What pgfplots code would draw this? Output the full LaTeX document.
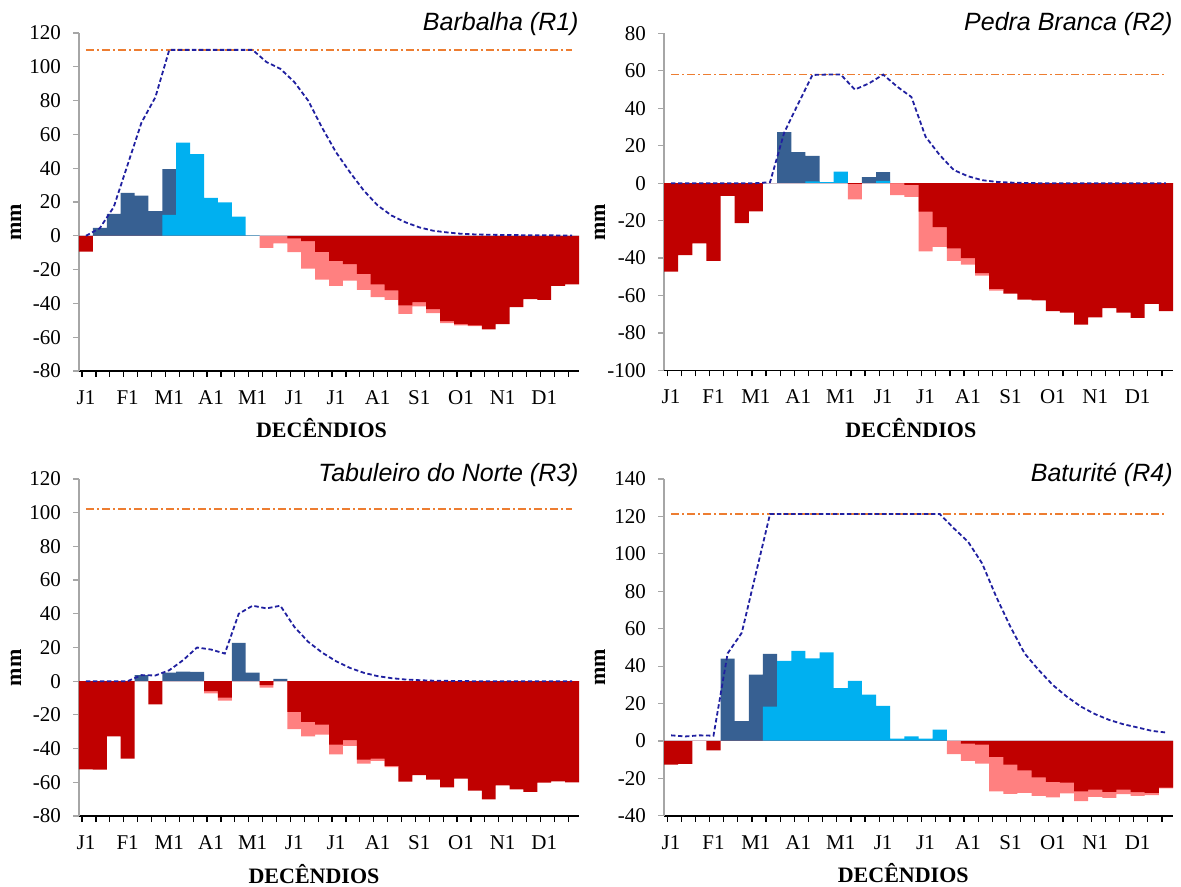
\documentclass[border=0pt]{standalone}
\usepackage{fontspec}
\setmainfont{Liberation Serif}
\newfontfamily\arialfont{Liberation Sans}
\usepackage{pgfplots}
\usepackage{pgfplotstable}
\pgfplotsset{compat=1.18}

\definecolor{dblue}{HTML}{376092}
\definecolor{lblue}{HTML}{00B0F0}
\definecolor{dred}{HTML}{C00000}
\definecolor{lpink}{HTML}{FF8080}
\definecolor{navyl}{RGB}{32,32,160}
\definecolor{orng}{HTML}{ED7D31}
\definecolor{axgray}{HTML}{A6A6A6}

% x: decendio index, db: dark blue, lb: light blue, pk: pink, dr: dark red, sto: storage line
\pgfplotstableread{
x db lb pk dr sto
0 0 0 0 -9.3 0
1 4.7 0 0 0 4.5
2 13 0 0 0 17
3 25.4 0 0 0 42
4 23.7 0 0 0 67
5 14.6 0 0 0 82
6 39.4 12.4 0 0 110
7 0 55.2 0 0 110
8 0 48.3 0 0 110
9 0 22.5 0 0 110
10 0 19.7 0 0 110
11 0 11.4 0 0 110
12 0 0.3 0 0 110
13 0 0 -7.1 0 102.8
14 0 0 -4.5 0 98.8
15 0 0 -9.7 -1.6 91
16 0 0 -19.5 -3.2 80
17 0 0 -26 -9.5 64
18 0 0 -29.6 -14.8 49.5
19 0 0 -26.6 -16.8 37.7
20 0 0 -32 -22.5 26.8
21 0 0 -36.3 -28.8 18
22 0 0 -37.9 -32.3 12
23 0 0 -46.2 -41.2 8
24 0 0 -41.8 -39.3 5
25 0 0 -45.8 -43.4 3
26 0 0 -51.7 -50.5 2
27 0 0 -53 -52.3 1.2
28 0 0 -53.4 -53 0.8
29 0 0 0 -55.4 0.6
30 0 0 0 -52.3 0.5
31 0 0 0 -42.2 0.4
32 0 0 0 -37.5 0.3
33 0 0 0 -37.9 0.3
34 0 0 0 -29.6 0.2
35 0 0 0 -28.8 0.2
}\Ra

\pgfplotstableread{
x db lb pk dr sto
0 0 0 0 -47.2 0
1 0 0 0 -38.5 0
2 0 0 0 -32.1 0
3 0 0 0 -41.5 0
4 0 0 0 -6.8 0
5 0 0 0 -21.4 0
6 0 0 0 -15 0
7 0 0 0 0 0.5
8 27.3 0 0 0 27
9 16.6 0 0 0 42.6
10 14.6 1 0 0 57.8
11 0 0.5 0 0 58
12 0 6.2 0 0 58
13 0 0 -8.6 -0.4 50
14 3.2 0 0 0 53.3
15 5.9 1.2 0 0 58
16 0 0 -6.4 0 51.5
17 0 0 -7.3 -0.9 46
18 0 0 -36.4 -15.2 24.8
19 0 0 -34 -23.5 15
20 0 0 -41.5 -34.8 7
21 0 0 -43.5 -40 3.7
22 0 0 -49.4 -48 1.6
23 0 0 -57.4 -56.5 0.7
24 0 0 0 -59 0.3
25 0 0 0 -62.2 0.1
26 0 0 0 -62.6 0
27 0 0 0 -68.4 0
28 0 0 0 -69.2 0
29 0 0 0 -75.6 0
30 0 0 0 -71.7 0
31 0 0 0 -66.7 0
32 0 0 0 -69.2 0
33 0 0 0 -72 0
34 0 0 0 -64.5 0
35 0 0 0 -68.3 0
}\Rb

\pgfplotstableread{
x db lb pk dr sto
0 0 0 0 -52.3 0
1 0 0 0 -52.5 0
2 0 0 0 -32.7 0
3 0 0 0 -46 0
4 3.6 0 0 0 3.6
5 0 0 0 -13.7 3.4
6 5.1 0 0 0 6.5
7 5.7 0 0 0 12.5
8 5.5 0 0 0 20
9 0 0 -7.3 -5.9 18.8
10 0 0 -11.5 -9.7 16.4
11 22.8 0 0 0 40
12 5.1 0 0 0 44.8
13 0 0 -3.8 -2.4 43.2
14 1.4 0 0 0 44.8
15 0 0 -28.5 -18.2 32.3
16 0 0 -32.7 -24.2 23.4
17 0 0 -31.7 -25.7 17
18 0 0 -43.4 -37.6 11.9
19 0 0 -38.4 -35 7.9
20 0 0 -48.9 -46.5 5
21 0 0 -47.3 -46 3
22 0 0 -51 -50.3 1.8
23 0 0 0 -59.6 1
24 0 0 0 -55.8 0.6
25 0 0 0 -58.4 0.3
26 0 0 0 -63 0.2
27 0 0 0 -57.8 0.1
28 0 0 0 -65 0
29 0 0 0 -70.1 0
30 0 0 0 -61.8 0
31 0 0 0 -64.2 0
32 0 0 0 -65.7 0
33 0 0 0 -60.2 0
34 0 0 0 -59.4 0
35 0 0 0 -60 0
}\Rc

\pgfplotstableread{
x db lb pk dr sto
0 0 0 0 -12.6 3
1 0 0 0 -12.3 2.4
2 0 0 0 0 3
3 0 0 0 -5.1 2.8
4 44 0 0 0 46.8
5 10.6 0 0 0 57.8
6 35.5 0 0 0 89.6
7 46.6 18.4 0 0 121.3
8 0 42.8 0 0 121.3
9 0 48.1 0 0 121.3
10 0 44.2 0 0 121.3
11 0 47.4 0 0 121.3
12 0 28.3 0 0 121.3
13 0 32.1 0 0 121.3
14 0 24.8 0 0 121.3
15 0 18.8 0 0 121.3
16 0 1.3 0 0 121.3
17 0 2.4 0 0 121.3
18 0 1.3 0 0 121.3
19 0 6.1 0 0 121.3
20 0 0 -7.1 0 113.6
21 0 0 -10.6 -1.4 106.5
22 0 0 -12.1 -2 94.9
23 0 0 -26.9 -8.5 77
24 0 0 -28.3 -12.6 61
25 0 0 -27.8 -15.7 46.8
26 0 0 -29.4 -19.4 37.9
27 0 0 -30.1 -21.9 29.9
28 0 0 -28 -22.3 23.6
29 0 0 -32.1 -26.9 18.3
30 0 0 -29.9 -26 14.3
31 0 0 -30.4 -27.2 11.2
32 0 0 -28.4 -26 8.9
33 0 0 -29.4 -27.3 7.2
34 0 0 -29 -27.7 5.4
35 0 0 -25.4 -24.9 4.5
}\Rd

\pgfplotsset{
  wb/.style={
    scale only axis,
    anchor=south west,
    clip=false,
    xmin=-0.5, xmax=35.5,
    axis x line*=bottom, axis y line*=left,
    x axis line style={black, line width=0.8pt},
    y axis line style={axgray, line width=0.6pt},
    tick align=outside,
    major tick length=3pt,
    xtick={-0.28,0.72,...,34.8},
    xticklabels={},
    extra x ticks={0,3,...,33},
    extra x tick labels={J1,F1,M1,A1,M1,J1,J1,A1,S1,O1,N1,D1},
    extra x tick style={major tick length=0pt, xticklabel style={yshift=-6.2pt}},
    xtick style={black, line width=0.6pt},
    ytick style={axgray, line width=0.6pt},
    tick label style={font=\fontsize{10.5}{12}\selectfont},
    yticklabel style={xshift=-2.5pt},
    /pgf/number format/assume math mode=true,
    ylabel={mm},
    xlabel={DECÊNDIOS},
    label style={font=\fontsize{11}{13}\selectfont\bfseries},
    ylabel style={at={(axis description cs:-0.126,0.44)}, anchor=center},
    xlabel style={at={(axis description cs:0.485,0)}, anchor=base, yshift=-33.5pt},
  },
  bardb/.style={ybar, bar width=1, bar shift=0pt, fill=dblue, draw=none},
  barlb/.style={ybar, bar width=1, bar shift=0pt, fill=lblue, draw=none},
  barpk/.style={ybar, bar width=1, bar shift=0pt, fill=lpink, draw=none},
  bardr/.style={ybar, bar width=1, bar shift=0pt, fill=dred, draw=none},
  stoline/.style={navyl, line width=0.9pt, dash pattern=on 2.2pt off 1.3pt, mark=none},
  capline/.style={orng, line width=0.85pt, dash pattern=on 4pt off 1.5pt on 1pt off 1.5pt, mark=none},
}
\newcommand{\ptitle}[2]{\node[anchor=base east, inner sep=0pt, font=\arialfont\itshape\fontsize{12.5}{14}\selectfont] at (rel axis cs:1,1) [yshift=#2] {#1};}

\begin{document}
\begin{tikzpicture}
\useasboundingbox (0,0) rectangle (590.5pt,443.5pt);

\begin{axis}[wb, at={(39.5pt,258pt)}, width=250pt, height=169pt,
  ymin=-80, ymax=120, ytick={-80,-60,...,120}]
\addplot[bardb] table[x=x,y=db]{\Ra};
\addplot[barlb] table[x=x,y=lb]{\Ra};
\addplot[barpk] table[x=x,y=pk]{\Ra};
\addplot[bardr] table[x=x,y=dr]{\Ra};
\addplot[capline] coordinates {(0,110) (35,110)};
\addplot[stoline] table[x=x,y=sto]{\Ra};
\ptitle{Barbalha (R1)}{1.2pt}
\end{axis}

\begin{axis}[wb, at={(332pt,258.3pt)}, width=254.5pt, height=168.5pt,
  ymin=-100, ymax=80, ytick={-100,-80,...,80}]
\addplot[bardb] table[x=x,y=db]{\Rb};
\addplot[barlb] table[x=x,y=lb]{\Rb};
\addplot[barpk] table[x=x,y=pk]{\Rb};
\addplot[bardr] table[x=x,y=dr]{\Rb};
\addplot[capline] coordinates {(0,58) (35,58)};
\addplot[stoline] table[x=x,y=sto]{\Rb};
\ptitle{Pedra Branca (R2)}{1.2pt}
\end{axis}

\begin{axis}[wb, at={(39.5pt,35.5pt)}, width=250pt, height=168.5pt,
  ymin=-80, ymax=120, ytick={-80,-60,...,120},
  xlabel style={at={(axis description cs:0.47,0)}}]
\addplot[bardb] table[x=x,y=db]{\Rc};
\addplot[barlb] table[x=x,y=lb]{\Rc};
\addplot[barpk] table[x=x,y=pk]{\Rc};
\addplot[bardr] table[x=x,y=dr]{\Rc};
\addplot[capline] coordinates {(0,102) (35,102)};
\addplot[stoline] table[x=x,y=sto]{\Rc};
\ptitle{Tabuleiro do Norte (R3)}{-1.5pt}
\end{axis}

\begin{axis}[wb, at={(332pt,35.6pt)}, width=254.5pt, height=168.4pt,
  ymin=-40, ymax=140, ytick={-40,-20,...,140},
  xlabel style={at={(axis description cs:0.47,0)}}]
\addplot[bardb] table[x=x,y=db]{\Rd};
\addplot[barlb] table[x=x,y=lb]{\Rd};
\addplot[barpk] table[x=x,y=pk]{\Rd};
\addplot[bardr] table[x=x,y=dr]{\Rd};
\addplot[capline] coordinates {(0,121.3) (35,121.3)};
\addplot[stoline] table[x=x,y=sto]{\Rd};
\ptitle{Baturité (R4)}{-1.5pt}
\end{axis}
\end{tikzpicture}
\end{document}
